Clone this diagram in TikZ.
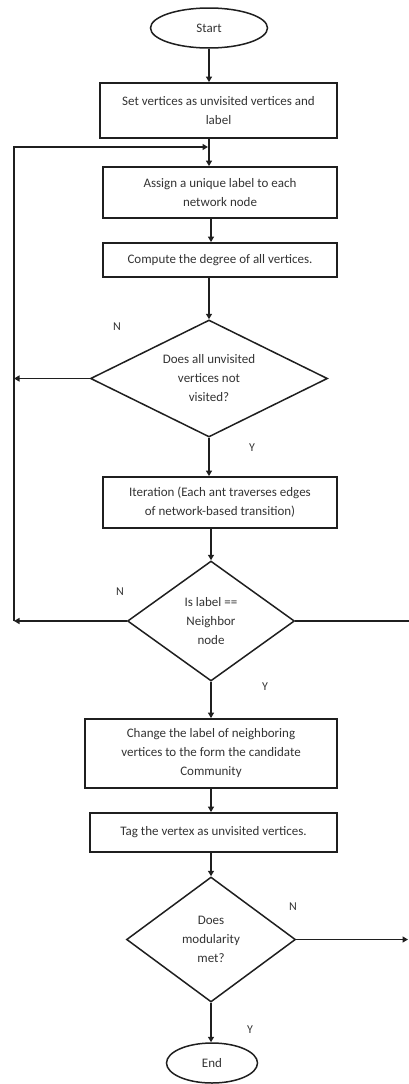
\documentclass[tikz,border=0pt]{standalone}
\usepackage{fontspec}
\setmainfont{Carlito}
\usetikzlibrary{shapes.geometric,arrows.meta}

\begin{document}
\begin{tikzpicture}[x=1pt,y=-1pt,
  txt/.style={text=black!80,font=\fontsize{13}{19}\selectfont,align=center},
  box/.style={txt,draw=black!88,line width=1.8pt,rectangle,inner sep=1pt},
  term/.style={txt,draw=black!88,line width=1.5pt,ellipse,inner sep=0pt},
  decision/.style={txt,draw=black!88,line width=1.5pt,diamond,inner sep=0pt},
  arr/.style={draw=black!88,line width=1.5pt,-{Triangle[length=5.5pt,width=6pt]}},
  link/.style={draw=black!88,line width=1.5pt},
  yn/.style={text=black!80,font=\fontsize{12}{13}\selectfont}]

\useasboundingbox (0,0) rectangle (409,1084);

% terminals, process boxes and decisions
\node[term,minimum width=117pt,minimum height=40pt] (start) at (209,28) {Start};
\node[box,minimum width=237pt,minimum height=55pt] (b1) at (218.5,110.5)
  {Set vertices as unvisited vertices and\\label};
\node[box,minimum width=234pt,minimum height=51pt] (b2) at (220,192.5)
  {Assign a unique label to each\\network node};
\node[box,minimum width=234pt,minimum height=34pt] (b3) at (220,260)
  {Compute the degree of all vertices.};
\node[decision,shape aspect=2.03,minimum width=237pt,minimum height=117pt] (d1) at (209,378.5)
  {Does all unvisited\\vertices not\\visited?};
\node[box,minimum width=234pt,minimum height=51pt] (b4) at (220,502.5)
  {Iteration (Each ant traverses edges\\of network-based transition)};
\node[decision,shape aspect=1.45,minimum width=167pt,minimum height=120pt] (d2) at (211,621)
  {Is label ==\\Neighbor\\node};
\node[box,minimum width=252pt,minimum height=69pt] (b5) at (211,753.5)
  {Change the label of neighboring\\vertices to the form the candidate\\Community};
\node[box,minimum width=247pt,minimum height=39pt] (b6) at (213.5,832.5)
  {Tag the vertex as unvisited vertices.};
\node[decision,shape aspect=1.4,minimum width=169pt,minimum height=125pt] (d3) at (211,939.5)
  {Does\\modularity\\met?};
\node[term,minimum width=91pt,minimum height=40pt] (end) at (212,1063) {End};

% helper points for the loop-back line and the right edge
\coordinate (loop) at (14,0);
\coordinate (join) at (208,147);
\coordinate (rim) at (409,0);
\coordinate (rimtip) at (408,0);

% main flow
\draw[arr] (start.south) -- (start.south |- b1.north);
\draw[arr] (b1.south -| d1.north) -- (b2.north -| d1.north);
\draw[arr] (b2.south -| d2.north) -- (b3.north -| d2.north);
\draw[arr] (b3.south -| d1.north) -- (d1.north);
\draw[arr] (d1.south) -- (d1.south |- b4.north);
\draw[arr] (b4.south -| d2.north) -- (d2.north);
\draw[arr] (d2.south) -- (d2.south |- b5.north);
\draw[arr] (b5.south -| d3.north) -- (b6.north -| d3.north);
\draw[arr] (b6.south -| d3.north) -- (d3.north);
\draw[arr] (d3.south) -- (d3.south |- end.north);

% "No" branches
\draw[arr] (d1.west) -- (d1.west -| loop);
\draw[arr] (d2.west) -- (d2.west -| loop);
\draw[arr] (d2.west -| loop) -- (loop |- join) -- (join);
\draw[link] (d2.east) -- (d2.east -| rim);
\draw[arr] (d3.east) -- (d3.east -| rimtip);

% branch labels
\node[yn] (n1) at (117,327) {N};
\node[yn] (y1) at (252,448) {Y};
\node[yn] (n2) at (120,592) {N};
\node[yn] (y2) at (265,687) {Y};
\node[yn] (n3) at (293,907) {N};
\node[yn] (y3) at (250,1030) {Y};
\end{tikzpicture}
\end{document}
